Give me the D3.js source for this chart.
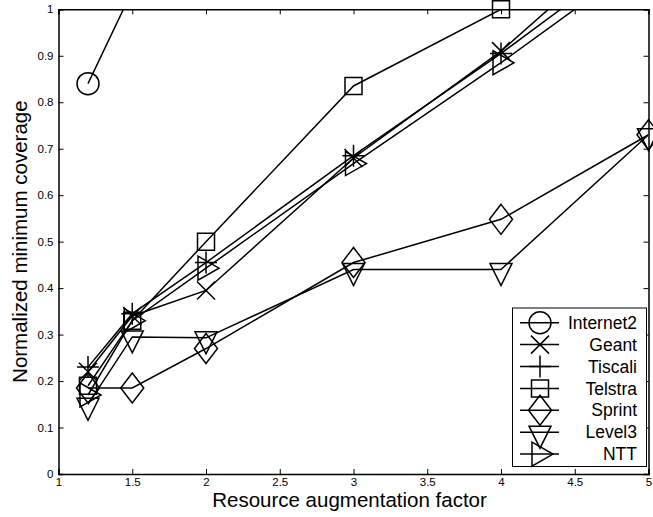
<!DOCTYPE html>
<html>
<head>
<meta charset="utf-8">
<script src="https://cdn.jsdelivr.net/npm/d3@7"></script>
<style>
  body { margin: 0; background: #fff; }
  svg { display: block; font-family: "Liberation Sans", Arial, sans-serif; }
</style>
</head>
<body>
<script>
// data
const factors = [1.2, 1.5, 2, 3, 4, 5];
const internet2 = [0.84, 1.04, 1.1, 1.2, 1.3, 1.35];
const geant = [0.22, 0.34, 0.395, 0.68, 0.91, 1.19];
const tiscali = [0.23, 0.345, 0.455, 0.685, 0.905, 1.14];
const telstra = [0.19, 0.33, 0.5, 0.835, 1.0, 1.15];
const sprint = [0.185, 0.185, 0.27, 0.455, 0.548, 0.73];
const level3 = [0.15, 0.295, 0.293, 0.44, 0.44, 0.73];
const ntt = [0.17, 0.33, 0.443, 0.668, 0.885, 1.115];
const xTicks = [1, 1.5, 2, 2.5, 3, 3.5, 4, 4.5, 5];
const yTicks = [0, 0.1, 0.2, 0.3, 0.4, 0.5, 0.6, 0.7, 0.8, 0.9, 1];

const series = [
  { name: "Internet2", values: internet2, marker: "circle" },
  { name: "Geant", values: geant, marker: "x" },
  { name: "Tiscali", values: tiscali, marker: "plus" },
  { name: "Telstra", values: telstra, marker: "square" },
  { name: "Sprint", values: sprint, marker: "diamond" },
  { name: "Level3", values: level3, marker: "down" },
  { name: "NTT", values: ntt, marker: "right" }
];

const width = 653, height = 517;
const margin = { left: 58.5, right: 4.5, top: 9.3, bottom: 43 };
const x = d3.scaleLinear().domain([1, 5]).range([margin.left, width - margin.right]);
const y = d3.scaleLinear().domain([0, 1]).range([height - margin.bottom, margin.top]);

const svg = d3.select("body").append("svg")
  .attr("width", width)
  .attr("height", height);

svg.append("clipPath").attr("id", "plot-clip")
  .append("rect")
  .attr("x", x(1)).attr("y", y(1))
  .attr("width", x(5) - x(1)).attr("height", y(0) - y(1));

// marker shapes as path strings
function markerPath(type) {
  switch (type) {
    case "circle": return "M-11,0A11,11 0 1,0 11,0A11,11 0 1,0 -11,0Z";
    case "x": return "M-9,-9L9,9M-9,9L9,-9";
    case "plus": return "M-11,0L11,0M0,-11L0,11";
    case "square": return "M-8.5,-8.5H8.5V8.5H-8.5Z";
    case "diamond": return "M0,-15L11.5,0L0,15L-11.5,0Z";
    case "down": return "M-11,-6L11,-6L0,16Z";
    case "right": return "M-8,-12L13,0L-8,12Z";
  }
}

// axes, ticks inside on all four sides
const xAxis = svg.append("g").attr("transform", `translate(0,${y(0)})`)
  .call(d3.axisBottom(x).tickValues(xTicks).tickSize(-5).tickPadding(4).tickFormat(d3.format("")));
const xAxisTop = svg.append("g").attr("transform", `translate(0,${y(1)})`)
  .call(d3.axisTop(x).tickValues(xTicks).tickSize(-5).tickFormat(""));
const yAxis = svg.append("g").attr("transform", `translate(${x(1)},0)`)
  .call(d3.axisLeft(y).tickValues(yTicks).tickSize(-5).tickPadding(5).tickFormat(d3.format("")));
const yAxisRight = svg.append("g").attr("transform", `translate(${x(5)},0)`)
  .call(d3.axisRight(y).tickValues(yTicks).tickSize(-5).tickFormat(""));

[xAxis, xAxisTop, yAxis, yAxisRight].forEach(g => {
  g.select(".domain").attr("stroke", "#000").attr("stroke-width", 1.5);
  g.selectAll(".tick line").attr("stroke", "#000").attr("stroke-width", 1);
  g.selectAll(".tick text").attr("fill", "#000").style("font-size", "11.5px");
});

// lines and markers
const line = d3.line()
  .x((d, i) => x(factors[i]))
  .y(d => y(d));

series.forEach(s => {
  svg.append("path")
    .datum(s.values)
    .attr("clip-path", "url(#plot-clip)")
    .attr("d", line)
    .attr("fill", "none")
    .attr("stroke", "#000")
    .attr("stroke-width", 1.5);

  svg.append("g")
    .selectAll("path")
    .data(s.values.map((v, i) => ({ x: factors[i], y: v })).filter(d => d.y <= 1))
    .enter()
    .append("path")
    .attr("transform", d => `translate(${x(d.x)},${y(d.y)})`)
    .attr("d", markerPath(s.marker))
    .attr("fill", "none")
    .attr("stroke", "#000")
    .attr("stroke-width", 1.5);
});

// legend
const legend = svg.append("g");
legend.append("rect")
  .attr("x", 512.5).attr("y", 308)
  .attr("width", 134).attr("height", 158.5)
  .attr("fill", "#fff")
  .attr("stroke", "#000")
  .attr("stroke-width", 1);

series.forEach((s, i) => {
  const rowY = 322.7 + i * 21.9;
  legend.append("line")
    .attr("x1", 520).attr("x2", 559)
    .attr("y1", rowY).attr("y2", rowY)
    .attr("stroke", "#000").attr("stroke-width", 1.5);
  legend.append("path")
    .attr("transform", `translate(540,${rowY})`)
    .attr("d", markerPath(s.marker))
    .attr("fill", "none")
    .attr("stroke", "#000")
    .attr("stroke-width", 1.5);
  legend.append("text")
    .attr("x", 637).attr("y", rowY)
    .attr("dy", "0.35em")
    .attr("text-anchor", "end")
    .style("font-size", "17.5px")
    .text(s.name);
});

// axis titles
svg.append("text")
  .attr("x", (x(1) + x(5)) / 2 - 4)
  .attr("y", 507)
  .attr("text-anchor", "middle")
  .style("font-size", "20.5px")
  .text("Resource augmentation factor");

svg.append("text")
  .attr("transform", `translate(27,${(y(0) + y(1)) / 2}) rotate(-90)`)
  .attr("text-anchor", "middle")
  .style("font-size", "20.5px")
  .text("Normalized minimum coverage");
</script>
</body>
</html>
